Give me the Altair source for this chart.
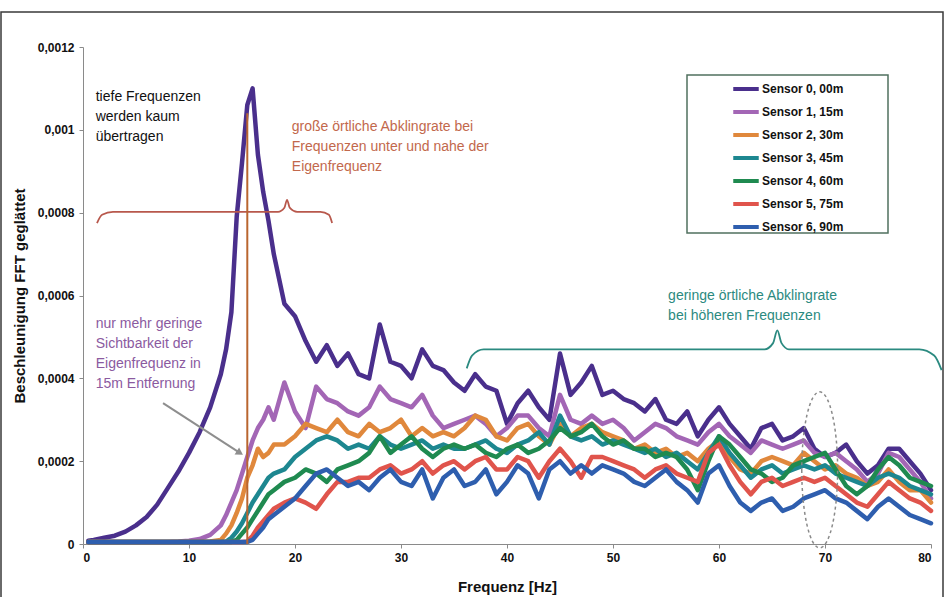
import altair as alt
import pandas as pd

# ---- frequency grid (Hz) ----
freq = ([0.5] + list(range(1, 14))
        + [13.5, 14, 14.5, 15, 15.5, 16, 16.5, 17, 17.5, 18]
        + list(range(19, 81)))

# ---- smoothed FFT acceleration per sensor, in units of 1e-4 ----
s0 = ([0.08, 0.1, 0.15, 0.2, 0.3, 0.45, 0.65, 0.95, 1.35, 1.75, 2.2, 2.7, 3.3, 4.1]
      + [4.7, 5.6, 7.9, 9.2, 10.6, 11.0, 9.4, 8.5, 7.8, 7.0]
      + [5.8, 5.5, 4.9, 4.4, 4.8, 4.3, 4.6, 4.1, 4.0, 5.3,
         4.4, 4.3, 4.0, 4.7, 4.3, 4.2, 3.9, 3.7, 4.1, 3.8,
         3.7, 2.9, 3.4, 3.7, 3.3, 3.0, 4.6, 3.6, 3.9, 4.3,
         3.6, 3.7, 3.5, 3.4, 3.2, 3.5, 3.0, 2.9, 3.2, 2.6,
         3.0, 3.3, 2.9, 2.6, 2.3, 2.8, 2.9, 2.5, 2.6, 2.8,
         2.3, 2.1, 2.2, 2.4, 2.0, 1.7, 1.9, 2.3, 2.3, 2.0,
         1.7, 1.3])
s1 = ([0.05, 0.05, 0.05, 0.05, 0.05, 0.05, 0.05, 0.05, 0.05, 0.06, 0.08, 0.12, 0.22, 0.45]
      + [0.7, 1.0, 1.3, 1.7, 2.1, 2.5, 2.8, 3.0, 3.3, 3.0]
      + [3.9, 3.2, 2.8, 3.8, 3.5, 3.4, 3.2, 3.1, 3.3, 3.8,
         3.5, 3.4, 3.3, 3.6, 3.1, 2.8, 2.9, 3.0, 3.1, 2.9,
         2.6, 2.8, 3.1, 3.1, 2.8, 2.6, 3.6, 3.0, 2.9, 3.1,
         2.9, 3.0, 2.8, 2.5, 2.7, 2.9, 2.8, 2.6, 2.5, 2.4,
         2.7, 2.9, 2.6, 2.4, 2.2, 2.5, 2.4, 2.3, 2.4, 2.5,
         2.2, 2.1, 2.2, 2.0, 1.8, 1.5, 1.7, 2.2, 2.1, 1.8,
         1.5, 1.1])
s2 = ([0.05, 0.05, 0.05, 0.05, 0.05, 0.05, 0.05, 0.05, 0.05, 0.05, 0.05, 0.05, 0.06, 0.1]
      + [0.25, 0.45, 0.75, 1.1, 1.6, 1.9, 2.3, 2.1, 2.2, 2.4]
      + [2.4, 2.6, 2.9, 2.8, 2.7, 3.0, 2.7, 2.6, 2.9, 2.7,
         2.8, 3.0, 2.6, 2.8, 2.6, 2.7, 2.6, 2.8, 3.1, 3.0,
         2.6, 2.5, 2.8, 2.9, 2.6, 2.4, 2.9, 2.6, 2.8, 2.9,
         2.7, 2.6, 2.5, 2.3, 2.4, 2.2, 2.3, 2.1, 2.2, 2.0,
         2.3, 2.5, 2.1, 1.8, 1.7, 2.0, 2.1, 2.0, 1.9, 2.2,
         2.0, 1.8, 1.9, 1.7, 1.6, 1.4, 1.5, 1.8, 1.5, 1.3,
         1.3, 1.0])
s3 = ([0.05] * 14
      + [0.06, 0.15, 0.3, 0.5, 0.75, 1.0, 1.2, 1.4, 1.6, 1.7]
      + [1.8, 2.1, 2.3, 2.5, 2.6, 2.5, 2.3, 2.4, 2.3, 2.6,
         2.4, 2.3, 2.4, 2.5, 2.3, 2.4, 2.3, 2.3, 2.4, 2.5,
         2.3, 2.2, 2.4, 2.5, 2.7, 2.4, 3.1, 2.6, 2.5, 2.6,
         2.4, 2.5, 2.4, 2.3, 2.2, 2.3, 2.1, 2.2, 2.0, 1.8,
         2.2, 2.6, 2.2, 1.9, 1.6, 1.8, 1.9, 1.7, 1.8, 1.9,
         1.8, 1.9, 1.7, 1.6, 1.5, 1.4, 1.6, 1.7, 1.6, 1.4,
         1.3, 1.2])
s4 = ([0.05] * 14
      + [0.05, 0.05, 0.1, 0.25, 0.4, 0.6, 0.8, 1.0, 1.2, 1.3]
      + [1.5, 1.6, 1.8, 1.7, 1.5, 1.8, 1.9, 2.0, 2.2, 2.6,
         2.2, 2.4, 2.6, 2.3, 2.1, 2.3, 2.4, 2.3, 2.4, 2.2,
         2.1, 2.3, 2.4, 2.2, 2.3, 2.5, 2.8, 2.6, 2.7, 2.9,
         2.6, 2.4, 2.5, 2.3, 2.3, 2.1, 2.2, 2.1, 1.8, 1.3,
         2.0, 2.6, 2.4, 2.1, 1.8, 1.7, 1.5, 1.6, 1.9, 2.0,
         2.1, 2.2, 1.8, 1.4, 1.2, 1.4, 1.8, 2.1, 1.9, 1.6,
         1.5, 1.4])
s5 = ([0.05] * 14
      + [0.05, 0.05, 0.05, 0.05, 0.06, 0.2, 0.4, 0.55, 0.7, 0.85]
      + [1.0, 1.1, 1.0, 0.85, 1.2, 1.5, 1.5, 1.6, 1.6, 1.8,
         1.9, 1.7, 1.8, 2.0, 1.7, 1.9, 2.0, 1.8, 2.0, 2.1,
         1.8, 1.8, 2.1, 2.0, 1.6, 2.0, 2.3, 2.0, 1.6, 2.1,
         2.1, 2.0, 1.9, 1.8, 1.6, 1.8, 1.9, 1.7, 1.6, 1.5,
         2.2, 2.4, 1.9, 1.5, 1.2, 1.5, 1.6, 1.4, 1.5, 1.6,
         1.5, 1.6, 1.4, 1.2, 1.0, 0.9, 1.2, 1.5, 1.3, 1.1,
         1.0, 0.8])
s6 = ([0.05] * 14
      + [0.05, 0.05, 0.05, 0.05, 0.05, 0.1, 0.25, 0.4, 0.6, 0.7]
      + [0.9, 1.1, 1.4, 1.7, 1.8, 1.6, 1.4, 1.5, 1.3, 1.6,
         1.8, 1.5, 1.4, 1.8, 1.1, 1.6, 1.8, 1.4, 1.5, 1.8,
         1.2, 1.5, 1.9, 1.7, 1.1, 1.8, 2.0, 1.7, 1.9, 1.7,
         1.9, 1.8, 1.7, 1.5, 1.4, 1.6, 1.8, 1.5, 1.3, 1.0,
         1.7, 1.9, 1.4, 1.0, 0.8, 1.0, 1.1, 0.8, 0.9, 1.1,
         1.2, 1.3, 1.1, 1.0, 0.8, 0.6, 0.9, 1.1, 0.9, 0.7,
         0.6, 0.5])

sensor_names = ["Sensor 0, 00m", "Sensor 1, 15m", "Sensor 2, 30m", "Sensor 3, 45m",
                "Sensor 4, 60m", "Sensor 5, 75m", "Sensor 6, 90m"]
sensor_colors = ["#4a2f8c", "#a366b5", "#e0883c", "#1d8790",
                 "#1f8a50", "#e0544c", "#2e5eae"]
series = [s0, s1, s2, s3, s4, s5, s6]

rows = []
for name, vals in zip(sensor_names, series):
    assert len(vals) == len(freq)
    for f, v in zip(freq, vals):
        rows.append({"f": f, "a": v * 1e-4, "sensor": name})
df = pd.DataFrame(rows)

# ---- annotations ----
brace_low_f = [1.32, 1.8, 2.83, 18.4, 19.0, 19.25, 19.5, 20.2, 22.4, 23.2, 23.5]
brace_low_a = [0.000775, 0.000795, 0.000802, 0.000802, 0.000812, 0.000831,
               0.000812, 0.000802, 0.000802, 0.000795, 0.000775]
brace_high_f = [36.2, 36.7, 37.8, 64.3, 65.1, 65.5, 65.9, 66.6, 78.9, 80.3, 81.0]
brace_high_a = [0.000424, 0.000455, 0.00047, 0.00047, 0.000485, 0.000516,
                0.000485, 0.00047, 0.00047, 0.000455, 0.00042]

eigen_f = 15.5
eigen_top = 0.00104

arrow_f = [7.55, 14.8]
arrow_a = [0.00034, 0.00022]

notes = [
    ("tiefe Frequenzen", 1.2, 0.001079, "#111111"),
    ("werden kaum", 1.2, 0.001031, "#111111"),
    ("übertragen", 1.2, 0.000983, "#111111"),
    ("große örtliche Abklingrate bei", 19.7, 0.001007, "#c2684c"),
    ("Frequenzen unter und nahe der", 19.7, 0.000959, "#c2684c"),
    ("Eigenfrequenz", 19.7, 0.000911, "#c2684c"),
    ("nur mehr geringe", 1.2, 0.000531, "#8b5a9f"),
    ("Sichtbarkeit der", 1.2, 0.000483, "#8b5a9f"),
    ("Eigenfrequenz in", 1.2, 0.000435, "#8b5a9f"),
    ("15m Entfernung", 1.2, 0.000387, "#8b5a9f"),
    ("geringe örtliche Abklingrate", 55.2, 0.000599, "#2b8a80"),
    ("bei höheren Frequenzen", 55.2, 0.000551, "#2b8a80"),
]
notes_df = pd.DataFrame(notes, columns=["text", "f", "a", "color"])

W, H = 848, 497
xs = alt.Scale(domain=[0, 80], nice=False, zero=False)
ys = alt.Scale(domain=[0, 0.0012], nice=False)

x_axis = alt.Axis(values=list(range(0, 81, 10)), title="Frequenz [Hz]",
                  labelFont="Liberation Sans", labelFontWeight="bold", labelFontSize=12,
                  titleFont="Liberation Sans", titleFontWeight="bold", titleFontSize=15,
                  labelPadding=4, titlePadding=16, grid=False,
                  domainColor="#8a8a8a", tickColor="#8a8a8a", tickSize=4,
                  labelColor="#111", titleColor="#111")
y_axis = alt.Axis(values=[0, 0.0002, 0.0004, 0.0006, 0.0008, 0.001, 0.0012],
                  labelExpr="replace(format(datum.value, '.4~f'), '.', ',')",
                  title="Beschleunigung FFT geglättet",
                  labelFont="Liberation Sans", labelFontWeight="bold", labelFontSize=12,
                  titleFont="Liberation Sans", titleFontWeight="bold", titleFontSize=15,
                  labelPadding=5, titlePadding=10, grid=False,
                  domainColor="#8a8a8a", tickColor="#8a8a8a", tickSize=4,
                  labelColor="#111", titleColor="#111")

frame = alt.Chart(pd.DataFrame({"k": [0]})).mark_rect(
    fill=None, stroke="#3a3a3a", strokeWidth=1.5
).encode(x=alt.value(-82), x2=alt.value(860), y=alt.value(-35), y2=alt.value(565))

legend_box = alt.Chart(pd.DataFrame({"k": [0]})).mark_rect(
    fill="white", stroke="#50705f", strokeWidth=1.5
).encode(x=alt.value(604), x2=alt.value(805), y=alt.value(28), y2=alt.value(186))

lines = alt.Chart(df).mark_line(strokeWidth=4.5, strokeJoin="round", strokeCap="round").encode(
    x=alt.X("f:Q", scale=xs, axis=x_axis),
    y=alt.Y("a:Q", scale=ys, axis=y_axis),
    color=alt.Color("sensor:N",
                    scale=alt.Scale(domain=sensor_names, range=sensor_colors),
                    legend=alt.Legend(title=None, orient="none", legendX=648, legendY=27,
                                      symbolType="stroke", symbolSize=650,
                                      symbolStrokeWidth=4, labelFont="Liberation Sans",
                                      labelFontWeight="bold", labelFontSize=12,
                                      labelColor="#111", labelOffset=1,
                                      rowPadding=0)),
)

brace_low = alt.Chart(pd.DataFrame({"f": brace_low_f, "a": brace_low_a})).mark_line(
    color="#b8584c", strokeWidth=1.8, interpolate="monotone"
).encode(x=alt.X("f:Q", scale=xs), y=alt.Y("a:Q", scale=ys))

brace_high = alt.Chart(pd.DataFrame({"f": brace_high_f, "a": brace_high_a})).mark_line(
    color="#2b8a80", strokeWidth=1.8, interpolate="monotone"
).encode(x=alt.X("f:Q", scale=xs), y=alt.Y("a:Q", scale=ys))

eigen_rule = alt.Chart(pd.DataFrame({"f": [eigen_f], "a0": [0.0], "a1": [eigen_top]})).mark_rule(
    color="#b9652f", strokeWidth=2
).encode(x=alt.X("f:Q", scale=xs), y=alt.Y("a0:Q", scale=ys), y2="a1:Q")

arrow_line = alt.Chart(pd.DataFrame({"f": arrow_f, "a": arrow_a})).mark_line(
    color="#8e8e8e", strokeWidth=2
).encode(x=alt.X("f:Q", scale=xs), y=alt.Y("a:Q", scale=ys))

arrow_head = alt.Chart(pd.DataFrame({"f": [arrow_f[1]], "a": [arrow_a[1]]})).mark_point(
    shape="triangle-right", filled=True, color="#8e8e8e", size=70, angle=33, opacity=1
).encode(x=alt.X("f:Q", scale=xs), y=alt.Y("a:Q", scale=ys))

ellipse = alt.Chart(pd.DataFrame({"f": [69.5], "a": [0.000179]})).mark_point(
    shape="M -0.23 0 A 0.23 1 0 1 0 0.23 0 A 0.23 1 0 1 0 -0.23 0 Z",
    size=24336, filled=False, stroke="#8a8a8a", strokeWidth=1.5, strokeDash=[3, 3],
    opacity=1
).encode(x=alt.X("f:Q", scale=xs), y=alt.Y("a:Q", scale=ys))

texts = alt.Chart(notes_df).mark_text(
    align="left", baseline="middle", font="Liberation Sans", fontSize=14
).encode(
    x=alt.X("f:Q", scale=xs), y=alt.Y("a:Q", scale=ys),
    text="text:N", color=alt.Color("color:N", scale=None),
)

chart = alt.layer(
    frame, legend_box, lines, brace_low, brace_high, eigen_rule,
    arrow_line, arrow_head, ellipse, texts
).properties(
    width=W, height=H,
    padding={"left": 83, "top": 47, "right": 18, "bottom": 53},
    autosize=alt.AutoSizeParams(type="none"),
    background="white",
).configure_view(stroke=None)

chart.save("out.html", embed_options={"renderer": "svg", "actions": False})
